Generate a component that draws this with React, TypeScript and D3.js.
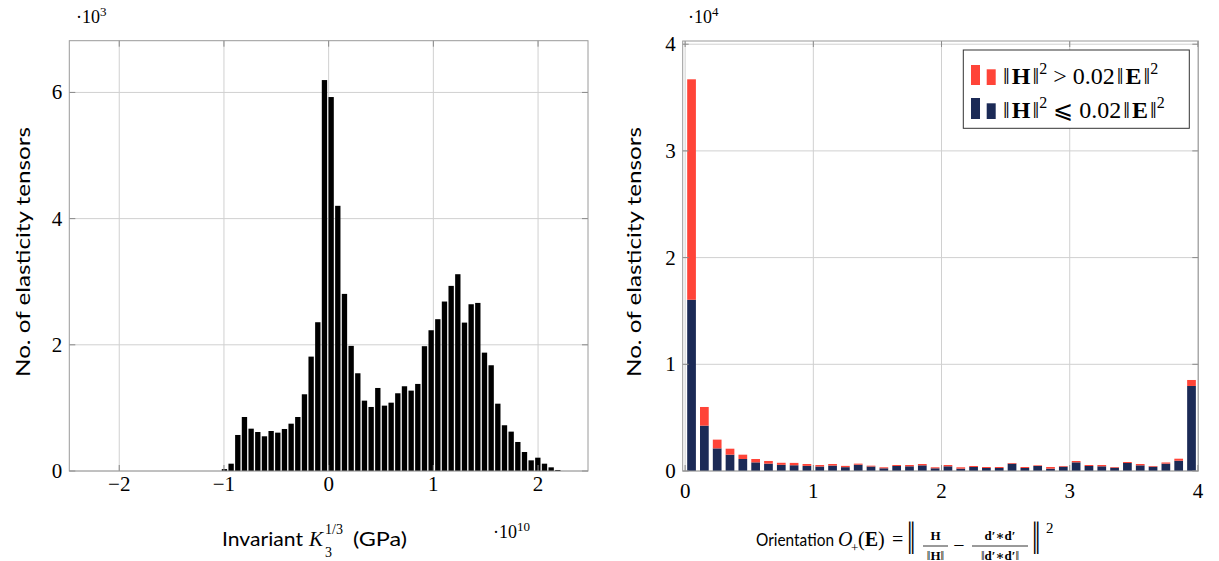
import React from "react";
import * as d3 from "d3";

// ---------- Left histogram data (counts per bin) ----------
const leftBinStart = -1.027; // left edge of first bin (units of 1e10 GPa)
const leftBinWidth = 0.06368;
const leftCounts = [
  30, 116, 571, 856, 671, 618, 550, 634, 608, 666, 750, 856, 1216, 1813, 2358,
  6196, 5927, 4203, 2807, 1983, 1549, 1115, 1015, 1316, 1036, 1083, 1232, 1343,
  1274, 1380, 1978, 2231, 2406, 2686, 2934, 3119, 2352, 2643, 2664, 1876, 1676,
  1067, 725, 624, 460, 301, 169, 211, 116, 58, 16,
];
const leftXTicks = [-2, -1, 0, 1, 2];
const leftYTicks = [0, 2000, 4000, 6000];
const leftYTickLabels = ["0", "2", "4", "6"];

// ---------- Right stacked histogram data ----------
const rightBinWidth = 0.1;
const rightLow = [
  16050, 4250, 2120, 1530, 1125, 810, 690, 580, 540, 480, 420, 510, 360, 590,
  420, 253, 469, 440, 530, 253, 440, 219, 375, 281, 281, 687, 281, 469, 219, 406,
  812, 469, 440, 312, 750, 530, 406, 690, 965, 7970,
];
const rightHigh = [
  20660, 1750, 820, 560, 405, 315, 250, 190, 220, 176, 140, 146, 120, 100, 80,
  94, 93, 122, 126, 94, 122, 128, 94, 94, 94, 63, 94, 61, 156, 63, 125, 93, 122,
  63, 93, 126, 63, 110, 188, 560,
];
const rightXTicks = [0, 1, 2, 3, 4];
const rightYTicks = [0, 10000, 20000, 30000, 40000];
const rightYTickLabels = ["0", "1", "2", "3", "4"];

const RED = "#ff4438";
const NAVY = "#1b2a56";
const GRID = "#d0d0d0";
const FRAME = "#9a9a9a";
const TICK = "#8a8a8a";
const SERIF = "'Liberation Serif', 'DejaVu Serif', serif";
const SANS = "Lato, 'Open Sans', sans-serif";
const NORM = "\u2016";

type Box = { x0: number; x1: number; y0: number; y1: number };

function Grid({ box, xs, ys, xTicks, yTicks }: any) {
  const { x0, x1, y0, y1 } = box as Box;
  return (
    <g>
      {xTicks.map((t: number) => (
        <line key={"gx" + t} x1={xs(t)} x2={xs(t)} y1={y0} y2={y1} stroke={GRID} strokeWidth={1} />
      ))}
      {yTicks.map((t: number) => (
        <line key={"gy" + t} x1={x0} x2={x1} y1={ys(t)} y2={ys(t)} stroke={GRID} strokeWidth={1} />
      ))}
    </g>
  );
}

function FrameTop({ box, xs, ys, xTicks, yTicks }: any) {
  const { x0, x1, y0, y1 } = box as Box;
  const L = 6;
  return (
    <g>
      {xTicks.map((t: number) => (
        <g key={"tx" + t}>
          <line x1={xs(t)} x2={xs(t)} y1={y1} y2={y1 - L} stroke={TICK} />
          <line x1={xs(t)} x2={xs(t)} y1={y0} y2={y0 + L} stroke={TICK} />
        </g>
      ))}
      {yTicks.map((t: number) => (
        <g key={"ty" + t}>
          <line x1={x0} x2={x0 + L} y1={ys(t)} y2={ys(t)} stroke={TICK} />
          <line x1={x1} x2={x1 - L} y1={ys(t)} y2={ys(t)} stroke={TICK} />
        </g>
      ))}
      <rect x={x0} y={y0} width={x1 - x0} height={y1 - y0} fill="none" stroke={FRAME} strokeWidth={1} />
    </g>
  );
}

function NormRow({ y, rel }: { y: number; rel: string }) {
  return (
    <text x={1003} y={y} fontFamily={SERIF} fontSize={24}>
      {NORM}
      <tspan dx={2} fontWeight="bold">H</tspan>
      <tspan dx={2}>{NORM}</tspan>
      <tspan dy={-10} fontSize={16}>2</tspan>
      <tspan dy={10}>{" " + rel + " 0.02"}</tspan>
      <tspan dx={2}>{NORM}</tspan>
      <tspan dx={2} fontWeight="bold">E</tspan>
      <tspan dx={2}>{NORM}</tspan>
      <tspan dy={-10} fontSize={16}>2</tspan>
    </text>
  );
}

export default function App() {
  // Left chart
  const lBox: Box = { x0: 69.3, x1: 588, y0: 40.7, y1: 471 };
  const lx = d3.scaleLinear().domain([-2.477, 2.477]).range([lBox.x0, lBox.x1]);
  const ly = d3.scaleLinear().domain([0, 6820]).range([lBox.y1, lBox.y0]);
  const lBarW = (lx(leftBinWidth) - lx(0)) * 0.8;

  // Right chart
  const rBox: Box = { x0: 682.7, x1: 1198.3, y0: 41, y1: 471 };
  const rx = d3.scaleLinear().domain([-0.019, 4.003]).range([rBox.x0, rBox.x1]);
  const ry = d3.scaleLinear().domain([0, 40300]).range([rBox.y1, rBox.y0]);
  const rBarW = (rx(rightBinWidth) - rx(0)) * 0.68;

  const stackData = rightLow.map((lo, i) => ({ i, lo, hi: rightHigh[i] }));
  const stacked = d3.stack<any>().keys(["lo", "hi"])(stackData);

  return (
    <svg width={1219} height={561} style={{ position: "absolute", left: 0, top: 0, background: "#fff" }}>
      {/* ================= LEFT ================= */}
      <Grid box={lBox} xs={lx} ys={ly} xTicks={leftXTicks} yTicks={leftYTicks} />
      {leftCounts.map((c, i) => {
        const cx = lx(leftBinStart + (i + 0.5) * leftBinWidth);
        const yTop = ly(c);
        return <rect key={i} x={cx - lBarW / 2} y={yTop} width={lBarW} height={Math.max(ly(0) - yTop, 0.8)} fill="#000" />;
      })}
      <FrameTop box={lBox} xs={lx} ys={ly} xTicks={leftXTicks} yTicks={leftYTicks} />
      {leftXTicks.map((t) => (
        <text key={t} x={lx(t)} y={491} textAnchor="middle" fontFamily={SERIF} fontSize={21}>
          {t < 0 ? "\u2212" + Math.abs(t) : String(t)}
        </text>
      ))}
      {leftYTicks.map((t, i) => (
        <text key={t} x={lBox.x0 - 7} y={ly(t) + 7} textAnchor="end" fontFamily={SERIF} fontSize={21}>
          {leftYTickLabels[i]}
        </text>
      ))}
      <text x={76} y={23} fontFamily={SERIF} fontSize={18}>
        {"\u00b710"}
        <tspan dy={-7} fontSize={13}>3</tspan>
      </text>
      <text x={493} y={538} fontFamily={SERIF} fontSize={18}>
        {"\u00b710"}
        <tspan dy={-7} fontSize={13}>10</tspan>
      </text>
      <text
        transform="translate(30,252) rotate(-90)"
        textAnchor="middle"
        fontFamily={SANS}
        fontSize={20}
        textLength={250}
        lengthAdjust="spacingAndGlyphs"
      >
        No. of elasticity tensors
      </text>
      <g>
        <text x={222} y={546} fontFamily={SANS} fontSize={20} textLength={81} lengthAdjust="spacingAndGlyphs">
          Invariant
        </text>
        <text x={309} y={546} fontFamily={SERIF} fontSize={21} fontStyle="italic">K</text>
        <text x={325} y={557} fontFamily={SERIF} fontSize={14}>3</text>
        <text x={325} y={534} fontFamily={SERIF} fontSize={14}>1/3</text>
        <text x={353} y={546} fontFamily={SANS} fontSize={20} textLength={54} lengthAdjust="spacingAndGlyphs">
          (GPa)
        </text>
      </g>

      {/* ================= RIGHT ================= */}
      <Grid box={rBox} xs={rx} ys={ry} xTicks={rightXTicks} yTicks={rightYTicks} />
      {stacked.map((layer, li) => (
        <g key={li}>
          {layer.map((d: any, i: number) => {
            const cx = rx((i + 0.5) * rightBinWidth);
            return (
              <rect
                key={i}
                x={cx - rBarW / 2}
                y={ry(d[1])}
                width={rBarW}
                height={ry(d[0]) - ry(d[1])}
                fill={li === 0 ? NAVY : RED}
              />
            );
          })}
        </g>
      ))}
      <FrameTop box={rBox} xs={rx} ys={ry} xTicks={rightXTicks} yTicks={rightYTicks} />
      {rightXTicks.map((t) => (
        <text key={t} x={rx(t)} y={498} textAnchor="middle" fontFamily={SERIF} fontSize={21}>
          {String(t)}
        </text>
      ))}
      {rightYTicks.map((t, i) => (
        <text key={t} x={rBox.x0 - 7} y={ry(t) + 7} textAnchor="end" fontFamily={SERIF} fontSize={21}>
          {rightYTickLabels[i]}
        </text>
      ))}
      <text x={688} y={23} fontFamily={SERIF} fontSize={18}>
        {"\u00b710"}
        <tspan dy={-7} fontSize={13}>4</tspan>
      </text>
      <text
        transform="translate(641,252) rotate(-90)"
        textAnchor="middle"
        fontFamily={SANS}
        fontSize={20}
        textLength={250}
        lengthAdjust="spacingAndGlyphs"
      >
        No. of elasticity tensors
      </text>

      {/* Legend */}
      <g>
        <rect x={963.3} y={50} width={226} height={78.3} fill="#fff" stroke="#333" strokeWidth={1} />
        <rect x={971} y={65} width={9} height={20} fill={RED} />
        <rect x={986.7} y={69.3} width={9} height={15.7} fill={RED} />
        <rect x={971} y={98} width={9} height={21} fill={NAVY} />
        <rect x={986.7} y={103.3} width={9} height={15.7} fill={NAVY} />
        <NormRow y={83.5} rel=">" />
        <NormRow y={117.5} rel={"\u2A7D"} />
      </g>

      {/* Right x label */}
      <g>
        <text x={756} y={546} fontFamily={SANS} fontSize={18} textLength={78} lengthAdjust="spacingAndGlyphs">
          Orientation
        </text>
        <text x={838} y={546} fontFamily={SERIF} fontSize={20} fontStyle="italic">O</text>
        <text x={851} y={552} fontFamily={SERIF} fontSize={13}>+</text>
        <text x={858} y={546} fontFamily={SERIF} fontSize={20}>
          (<tspan fontWeight="bold">E</tspan>)
        </text>
        <text x={892} y={546} fontFamily={SERIF} fontSize={20}>=</text>
        <text transform="translate(907,554) scale(1,1.55)" fontFamily={SERIF} fontSize={30}>{NORM}</text>
        <text x={935.5} y={540} textAnchor="middle" fontFamily={SERIF} fontSize={13} fontWeight="bold">H</text>
        <line x1={923} x2={948} y1={546} y2={546} stroke="#000" strokeWidth={0.8} />
        <text x={935.5} y={560} textAnchor="middle" fontFamily={SERIF} fontSize={13}>
          {NORM}<tspan fontWeight="bold">H</tspan>{NORM}
        </text>
        <text x={959} y={552} textAnchor="middle" fontFamily={SERIF} fontSize={20}>{"\u2212"}</text>
        <text x={1000} y={540} textAnchor="middle" fontFamily={SERIF} fontSize={13} fontWeight="bold">
          {"d\u2032\u2217d\u2032"}
        </text>
        <line x1={972} x2={1028} y1={546} y2={546} stroke="#000" strokeWidth={0.8} />
        <text x={1000} y={560} textAnchor="middle" fontFamily={SERIF} fontSize={13}>
          {NORM}<tspan fontWeight="bold">{"d\u2032\u2217d\u2032"}</tspan>{NORM}
        </text>
        <text transform="translate(1032,554) scale(1,1.55)" fontFamily={SERIF} fontSize={30}>{NORM}</text>
        <text x={1046} y={533} fontFamily={SERIF} fontSize={15}>2</text>
      </g>
    </svg>
  );
}
